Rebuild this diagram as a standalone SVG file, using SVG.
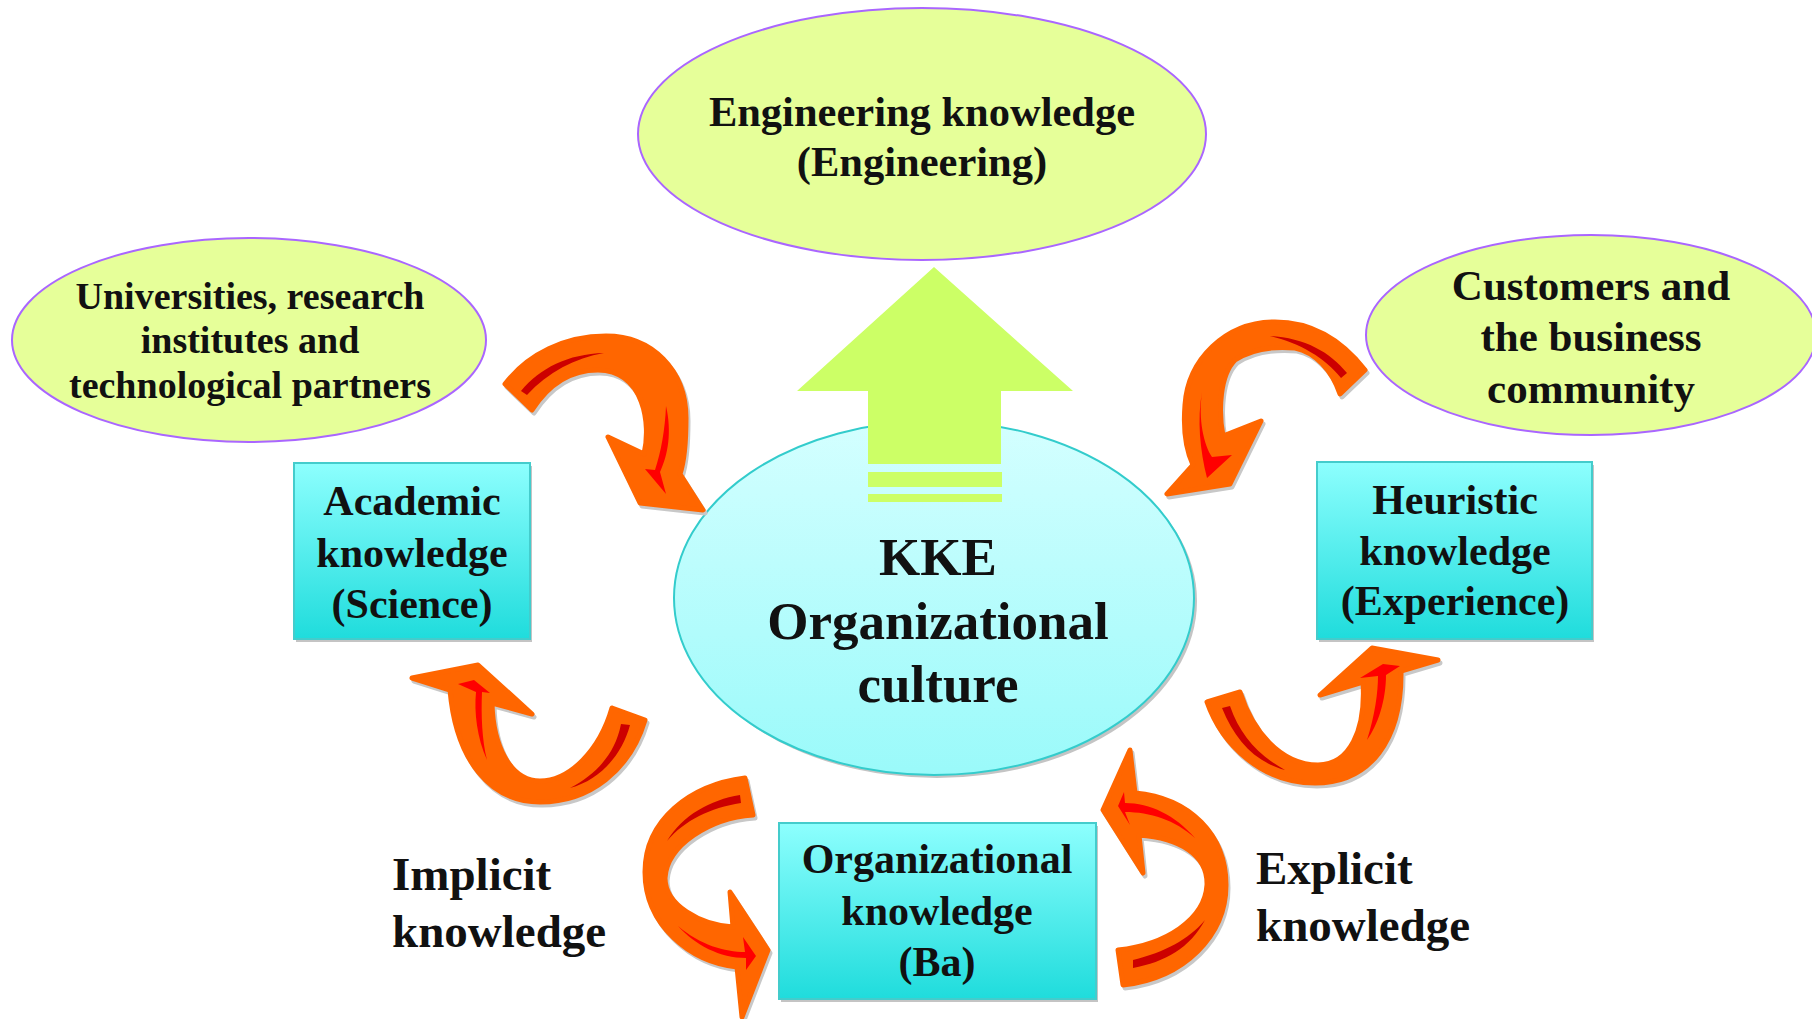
<svg xmlns="http://www.w3.org/2000/svg" width="1812" height="1019" viewBox="0 0 1812 1019">
<defs>
<linearGradient id="boxg" x1="0" y1="0" x2="0" y2="1">
<stop offset="0" stop-color="#8dfffe"/>
<stop offset="1" stop-color="#1fdcdc"/>
</linearGradient>
<linearGradient id="cellg" x1="0" y1="0" x2="0" y2="1">
<stop offset="0" stop-color="#d4ffff"/>
<stop offset="1" stop-color="#9afafa"/>
</linearGradient>
</defs>
<style>
.t{font-family:"Liberation Serif","Times New Roman",serif;font-weight:bold;fill:#111;text-anchor:middle}
.tl{font-family:"Liberation Serif","Times New Roman",serif;font-weight:bold;fill:#111}
.oval{fill:#e6ff99;stroke:#aa66ff;stroke-width:2}
.box{fill:url(#boxg);stroke:#44cccc;stroke-width:2}
.sh{fill:#c4c4c4}
.arr{fill:#ff6600;stroke:#ff6600;stroke-width:5;stroke-linejoin:round}
.ash{fill:#c8c8c8;stroke:#c8c8c8;stroke-width:5;stroke-linejoin:round}
.dr{fill:#cc0000}
.br{fill:#ff0000}
</style>

<g id="node-engineering">
<ellipse class="oval" cx="922" cy="134" rx="284" ry="126"/>
<text class="t" x="922" y="126" font-size="42.5">Engineering knowledge</text>
<text class="t" x="922" y="176" font-size="42.5">(Engineering)</text>
</g>

<g id="node-universities">
<ellipse class="oval" cx="249" cy="340" rx="237" ry="102"/>
<text class="t" x="250" y="309" font-size="38">Universities, research</text>
<text class="t" x="250" y="353" font-size="38">institutes and</text>
<text class="t" x="250" y="398" font-size="38">technological partners</text>
</g>

<g id="node-customers">
<ellipse class="oval" cx="1591" cy="335" rx="225" ry="100"/>
<text class="t" x="1591" y="300" font-size="43">Customers and</text>
<text class="t" x="1591" y="351" font-size="43">the business</text>
<text class="t" x="1591" y="403" font-size="43">community</text>
</g>

<g id="node-kke">
<ellipse cx="937" cy="601" rx="260" ry="177" fill="#c4c4c4"/>
<ellipse cx="934" cy="598" rx="260" ry="177" fill="url(#cellg)" stroke="#33cccc" stroke-width="2"/>
<polygon points="934,267 1073,391 1001,391 1001,464 868,464 868,391 797,391" fill="#ccff66"/>
<rect x="868" y="472" width="134" height="15" fill="#ccff66"/>
<rect x="868" y="494" width="134" height="8" fill="#ccff66"/>
<text class="t" x="938" y="575" font-size="53">KKE</text>
<text class="t" x="938" y="639" font-size="53">Organizational</text>
<text class="t" x="938" y="702" font-size="53">culture</text>
</g>

<g id="node-academic">
<rect class="sh" x="296" y="466" width="236" height="176"/>
<rect class="box" x="294" y="463" width="236" height="176"/>
<text class="t" x="412" y="515" font-size="42">Academic</text>
<text class="t" x="412" y="567" font-size="42">knowledge</text>
<text class="t" x="412" y="618" font-size="42">(Science)</text>
</g>

<g id="node-heuristic">
<rect class="sh" x="1319" y="465" width="275" height="177"/>
<rect class="box" x="1317" y="462" width="275" height="177"/>
<text class="t" x="1455" y="514" font-size="42">Heuristic</text>
<text class="t" x="1455" y="565" font-size="42">knowledge</text>
<text class="t" x="1455" y="615" font-size="42">(Experience)</text>
</g>

<g id="node-organizational">
<rect class="sh" x="781" y="826" width="317" height="176"/>
<rect class="box" x="779" y="823" width="317" height="176"/>
<text class="t" x="937" y="873" font-size="42">Organizational</text>
<text class="t" x="937" y="925" font-size="42">knowledge</text>
<text class="t" x="937" y="976" font-size="42">(Ba)</text>
</g>

<g id="label-implicit">
<text class="tl" x="392" y="890" font-size="47">Implicit</text>
<text class="tl" x="392" y="947" font-size="47">knowledge</text>
</g>

<g id="label-explicit">
<text class="tl" x="1256" y="884" font-size="47">Explicit</text>
<text class="tl" x="1256" y="941" font-size="47">knowledge</text>
</g>

<g id="connectors">
<g id="arrow-a">
<path class="ash" transform="translate(2,3)" d="M505,384 C528,354 565,336 606,336 C652,336 686,370 686,418 C686,445 684,462 680,474 L703,510 L640,503 L608,437 L644,454 C651,425 645,371 598,370 C570,370 548,385 532,410 Z"/>
<path class="arr" d="M505,384 C528,354 565,336 606,336 C652,336 686,370 686,418 C686,445 684,462 680,474 L703,510 L640,503 L608,437 L644,454 C651,425 645,371 598,370 C570,370 548,385 532,410 Z"/>
<path class="dr" d="M521,391 C540,368 568,354 604,353 C575,358 548,372 527,395 Z"/>
<path class="br" d="M666,406 C672,432 668,455 660,472 L666,494 L645,469 L655,470 C661,452 665,430 666,406 Z"/>
</g>
<g id="arrow-b">
<path class="ash" transform="translate(2,3)" d="M1365,370 C1340,338 1310,322 1275,322 C1225,322 1188,360 1185,405 C1183,430 1186,450 1193,465 L1167,494 L1230,484 L1261,421 L1223,436 C1218,410 1220,375 1235,360 C1250,350 1272,346 1295,348 C1315,352 1332,370 1340,394 Z"/>
<path class="arr" d="M1365,370 C1340,338 1310,322 1275,322 C1225,322 1188,360 1185,405 C1183,430 1186,450 1193,465 L1167,494 L1230,484 L1261,421 L1223,436 C1218,410 1220,375 1235,360 C1250,350 1272,346 1295,348 C1315,352 1332,370 1340,394 Z"/>
<path class="dr" d="M1347,373 C1330,352 1305,338 1270,336 C1300,343 1325,358 1341,378 Z"/>
<path class="br" d="M1202,392 C1198,420 1204,445 1212,457 L1232,455 L1207,478 C1200,450 1197,420 1202,392 Z"/>
</g>
<g id="arrow-c">
<path class="ash" transform="translate(2,3)" d="M412,678 L478,665 L532,714 L492,703 C493,745 510,781 540,781 C570,781 600,750 612,708 L645,720 C630,770 590,802 540,802 C490,802 456,760 450,690 Z"/>
<path class="arr" d="M412,678 L478,665 L532,714 L492,703 C493,745 510,781 540,781 C570,781 600,750 612,708 L645,720 C630,770 590,802 540,802 C490,802 456,760 450,690 Z"/>
<path class="br" d="M458,684 L474,680 L490,693 L482,692 C481,715 482,740 487,760 C477,738 474,712 476,692 Z"/>
<path class="dr" d="M630,725 C622,755 600,780 570,788 C595,775 615,755 621,724 Z"/>
</g>
<g id="arrow-d">
<path class="ash" transform="translate(2,3)" d="M1320,695 L1372,648 L1438,660 L1401,671 C1402,740 1370,783 1315,783 C1262,783 1222,745 1207,702 L1240,692 C1252,730 1280,765 1318,765 C1350,765 1366,730 1363,682 Z"/>
<path class="arr" d="M1320,695 L1372,648 L1438,660 L1401,671 C1402,740 1370,783 1315,783 C1262,783 1222,745 1207,702 L1240,692 C1252,730 1280,765 1318,765 C1350,765 1366,730 1363,682 Z"/>
<path class="br" d="M1367,740 C1375,715 1378,692 1378,676 L1360,678 L1383,664 L1400,666 L1386,675 C1386,700 1378,725 1367,740 Z"/>
<path class="dr" d="M1222,708 L1230,706 C1240,735 1258,755 1285,770 C1255,762 1235,740 1222,708 Z"/>
</g>
<g id="arrow-e">
<path class="ash" transform="translate(2,3)" d="M730,892 L768,950 L742,1017 L737,967 C690,962 645,925 645,872 C645,820 690,785 745,778 L753,815 C710,818 667,845 665,878 C665,905 700,925 733,927 Z"/>
<path class="arr" d="M730,892 L768,950 L742,1017 L737,967 C690,962 645,925 645,872 C645,820 690,785 745,778 L753,815 C710,818 667,845 665,878 C665,905 700,925 733,927 Z"/>
<path class="br" d="M678,926 C700,945 725,952 745,952 L743,937 L756,956 L746,970 L746,958 C720,958 695,945 678,926 Z"/>
<path class="dr" d="M740,795 L741,803 C710,808 685,820 667,841 C683,815 710,800 740,795 Z"/>
</g>
<g id="arrow-f">
<path class="ash" transform="translate(2,3)" d="M1130,750 L1103,810 L1143,873 L1139,835 C1180,838 1208,855 1207,885 C1205,920 1165,945 1118,950 L1123,985 C1185,978 1226,935 1226,885 C1226,835 1190,798 1135,793 Z"/>
<path class="arr" d="M1130,750 L1103,810 L1143,873 L1139,835 C1180,838 1208,855 1207,885 C1205,920 1165,945 1118,950 L1123,985 C1185,978 1226,935 1226,885 C1226,835 1190,798 1135,793 Z"/>
<path class="br" d="M1195,838 C1175,820 1150,812 1125,812 L1130,825 L1118,806 L1124,792 L1125,803 C1150,803 1175,815 1195,838 Z"/>
<path class="dr" d="M1205,920 C1190,948 1165,962 1133,968 L1133,960 C1165,952 1188,940 1205,920 Z"/>
</g>
</g>
</svg>
